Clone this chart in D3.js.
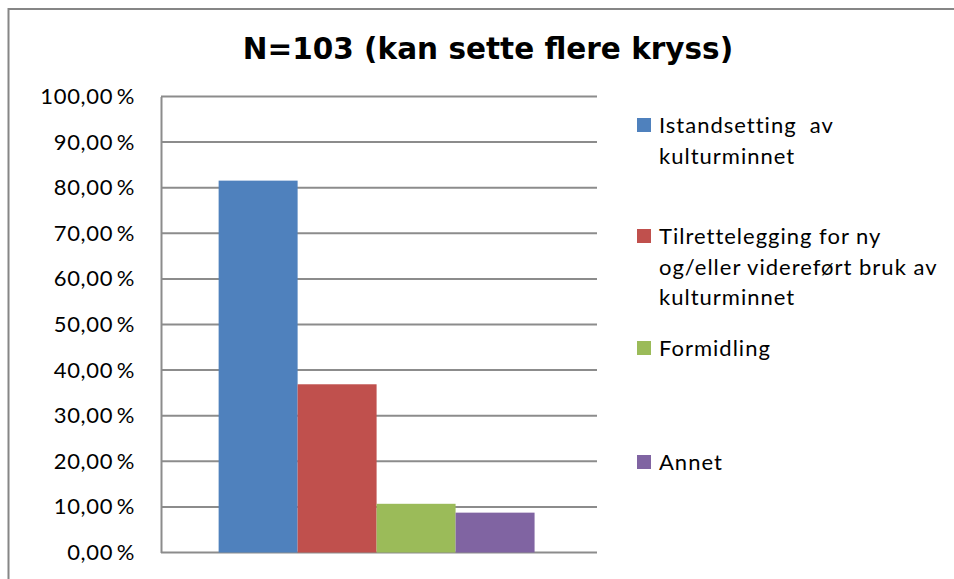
<!DOCTYPE html>
<html>
<head>
<meta charset="utf-8">
<script src="https://cdn.jsdelivr.net/npm/d3@7"></script>
<style>
  html, body { margin: 0; padding: 0; background: #fff; }
  svg { display: block; }
</style>
</head>
<body>
<div id="chart"></div>
<script>
/* ── Data ─────────────────────────────────────────────────────────── */

const title = 'N=103 (kan sette flere kryss)';
const seriesNames = [
  'Istandsetting  av\nkulturminnet',
  'Tilrettelegging for ny\nog/eller videreført bruk av\nkulturminnet',
  'Formidling',
  'Annet'
];
const seriesValues = [81.55, 36.89, 10.68, 8.74];
const seriesColors = ['#4F81BD', '#C0504D', '#9BBB59', '#8064A2'];
const yTicks = [0, 10, 20, 30, 40, 50, 60, 70, 80, 90, 100];

/* ── Layout ───────────────────────────────────────────────────────── */

const W = 954, H = 579;
const plot = { left: 161, right: 597, top: 96.5, bottom: 552.5 };
const bodyFont = 'Lato, "Open Sans", sans-serif';

const svg = d3.select('#chart').append('svg')
  .attr('width', W)
  .attr('height', H);

// outer chart frame (runs off the right and bottom edges)
svg.append('rect')
  .attr('x', 8.5).attr('y', 9)
  .attr('width', W + 20).attr('height', H + 20)
  .attr('fill', '#fff')
  .attr('stroke', '#868686')
  .attr('stroke-width', 2);

svg.append('text')
  .attr('x', 488).attr('y', 59)
  .attr('text-anchor', 'middle')
  .style('font-family', '"DejaVu Sans", Verdana, sans-serif')
  .style('font-weight', 'bold')
  .style('font-size', '29.5px')
  .attr('fill', '#000')
  .text(title);

const y = d3.scaleLinear().domain([0, 100]).range([plot.bottom, plot.top]);

// one category, four series side by side
const x0 = d3.scaleBand().domain(['']).range([plot.left, plot.right])
  .paddingOuter(0.19).paddingInner(0).align(0.48);
const x1 = d3.scaleBand().domain(d3.range(seriesValues.length)).range([0, x0.bandwidth()]);

// gridlines
svg.append('g')
  .selectAll('line')
  .data(yTicks)
  .join('line')
  .attr('x1', plot.left).attr('x2', plot.right)
  .attr('y1', d => y(d)).attr('y2', d => y(d))
  .attr('stroke', '#8c8c8c')
  .attr('stroke-width', 2);

// y axis
const yAxis = d3.axisLeft(y)
  .tickValues(yTicks)
  .tickSize(0)
  .tickPadding(26)
  .tickFormat(d => d3.format('.2f')(d).replace('.', ',') + '\u2009%');

const ag = svg.append('g')
  .attr('transform', 'translate(' + plot.left + ',0)')
  .call(yAxis);
ag.select('.domain')
  .attr('stroke', '#8c8c8c')
  .attr('stroke-width', 2);
ag.selectAll('text')
  .style('font-family', bodyFont)
  .style('font-size', '22px')
  .style('letter-spacing', '0.7px')
  .attr('fill', '#000');

// bars
svg.append('g')
  .selectAll('rect')
  .data(seriesValues)
  .join('rect')
  .attr('x', (d, i) => x0('') + x1(i))
  .attr('width', x1.bandwidth())
  .attr('y', d => y(d))
  .attr('height', d => y(0) - y(d))
  .attr('fill', (d, i) => seriesColors[i]);

// legend
const legendTops = [118, 229, 341, 455];
const lg = svg.append('g')
  .selectAll('g')
  .data(seriesNames)
  .join('g')
  .attr('transform', (d, i) => 'translate(637,' + legendTops[i] + ')');

lg.append('rect')
  .attr('width', 14).attr('height', 14)
  .attr('fill', (d, i) => seriesColors[i]);

lg.append('text')
  .style('font-family', bodyFont)
  .style('font-size', '22px')
  .style('letter-spacing', '1px')
  .attr('fill', '#000')
  .selectAll('tspan')
  .data(d => d.split('\n'))
  .join('tspan')
  .attr('x', 22)
  .attr('y', (d, i) => 15 + i * 30.5)
  .style('white-space', 'pre')
  .text(d => d);
</script>
</body>
</html>
